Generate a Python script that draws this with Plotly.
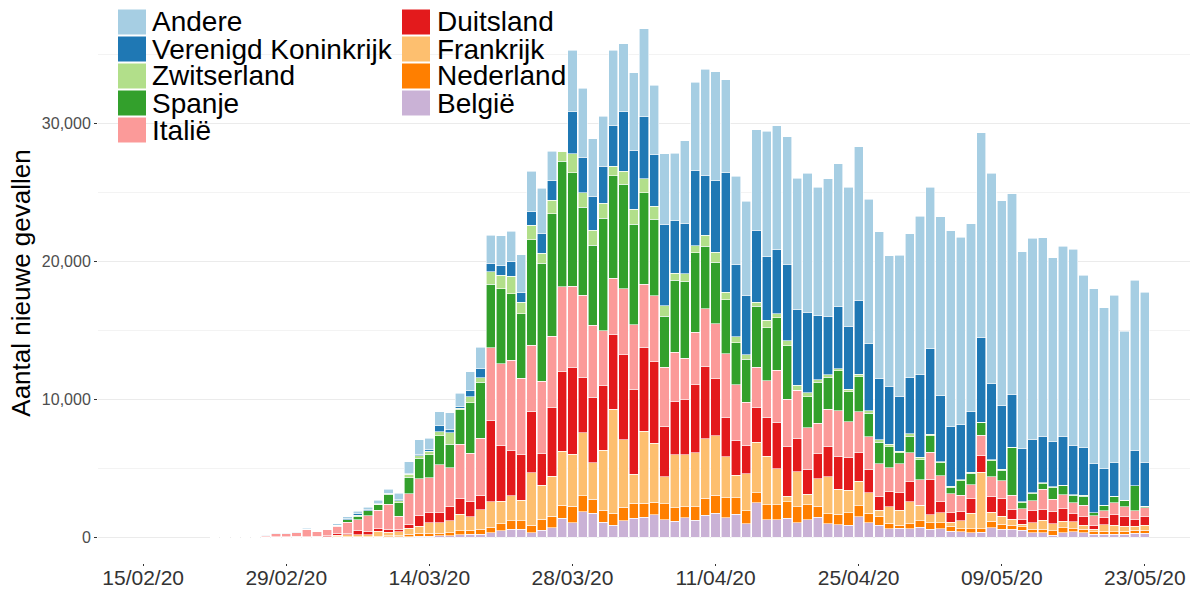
import pandas as pd
import plotly.graph_objects as go

# ---------------- data (new cases per day) ----------------
dates = pd.date_range("2020-02-22", "2020-05-23", freq="D")

andere = [0, 0, 0, 10, 20, 10, 40, 30, 40, 70, 20, 40,
          120, 170, 190, 120, 220, 260, 480, 860, 1030, 840, 1030, 1200, 960, 1370,
          1520, 2000, 2150, 2220, 2750, 2950, 3260, 2150, 0, 4440,
          4980, 4180, 3650, 5420, 4930, 5640, 6390, 5030, 5100, 4900, 5990, 6400, 7700, 7900,
          6710, 6400, 6810, 7290, 9100, 8980, 9260, 9540, 10070, 9300, 9950, 10390, 10100, 11110,
          10480, 10620, 9450, 10220, 10450,
          11470, 11720, 12970, 14200, 13590, 13620, 14830, 15270, 14830, 14540, 14290, 14590,
          14400, 13360, 13810, 14230, 12490, 12680, 11640, 12130, 12250, 12340, 12340]
verenigd_koninkrijk = [0, 0, 0, 0, 0, 0, 0, 0, 0, 0, 0, 0,
          0, 50, 100, 120, 70, 50, 40, 60, 120, 120, 410, 240, 120, 430,
          700, 650, 700, 1040, 680, 970, 1450, 1420, 0, 3050,
          2600, 2450, 2670, 2990, 4330, 4250, 4500, 3740, 5920, 3790, 3670, 5460, 4350, 5190,
          8690, 5240, 4300, 5220, 4590, 4640, 5550, 5480, 5840, 4640, 4250, 4470, 4560, 5390,
          4880, 4470, 4230, 3980, 4060,
          5990, 6180, 4810, 4300, 3980, 4400, 6160, 5480, 4660, 3820, 3860, 3860,
          3380, 3260, 3500, 3570, 3450, 3550, 2660, 2440, 0, 2580, 3180]
zwitserland = [0, 0, 0, 0, 0, 0, 20, 0, 0, 0, 0, 0,
          30, 0, 70, 0, 50, 40, 170, 190, 190, 240, 290, 840, 100, 430,
          310, 890, 970, 1260, 850, 1040, 720, 970, 750, 1380,
          1040, 1090, 1090, 660, 950, 1090, 1020, 950, 770, 530, 560, 530, 800, 720,
          530, 430, 310, 290, 560, 310, 340, 360, 310, 170, 170, 170, 190, 170,
          190, 170, 170, 120, 170,
          170, 120, 70, 100, 100, 100, 50, 100, 50, 50, 70, 50,
          50, 50, 50, 50, 70, 0, 0, 0, 0, 0, 0]
spanje = [0, 0, 0, 0, 0, 0, 0, 0, 20, 0, 30, 30,
          50, 190, 240, 360, 400, 720, 960, 1200, 1490, 1680, 2110, 1700, 2500, 3650,
          4060, 4590, 5430, 4830, 4660, 7660, 8550, 8890, 9100, 8210,
          6390, 5810, 8140, 7460, 7560, 7290, 6630, 5540, 3670, 5220, 5550, 5750, 4520, 4490,
          3910, 3020, 3120, 4400, 3820, 3790, 3890, 0, 2220, 2970, 2320, 2900, 2170, 2540,
          1690, 1590, 1520, 800, 1210,
          1450, 1210, 920, 460, 1040, 800, 920, 1160, 770, 3450, 410, 530,
          430, 850, 630, 530, 650, 240, 410, 460, 480, 1810, 100]
italie = [50, 70, 60, 90, 80, 100, 200, 220, 240, 560, 340, 470,
          530, 790, 770, 1150, 1320, 1800, 960, 2210, 2640, 2520, 3480, 2810, 3940, 3480,
          4150, 5260, 5920, 6570, 5550, 4780, 5260, 5170, 6160, 5940,
          5950, 5220, 4010, 4030, 4790, 4690, 4570, 4790, 4300, 3550, 3020, 3790, 4180, 3960,
          4660, 4030, 3140, 2970, 2660, 3770, 3450, 3500, 3040, 2220, 2700, 3330, 2610, 2970,
          2370, 2340, 1690, 2100, 2100,
          1880, 1930, 1910, 1380, 1160, 1040, 1450, 1400, 1280, 1040, 800, 720,
          1420, 870, 1010, 800, 850, 680, 510, 870, 680, 630, 680]
duitsland = [0, 0, 0, 0, 0, 20, 20, 20, 50, 20, 30, 50,
          120, 100, 310, 220, 190, 240, 170, 310, 790, 720, 720, 1030, 1150, 1130,
          1040, 5920, 4060, 3260, 3310, 4440, 2290, 4970, 5750, 6250,
          3990, 4740, 4670, 5470, 6150, 6170, 6080, 5900, 3670, 3860, 3980, 4950, 5260, 4130,
          2830, 2560, 2050, 2490, 2830, 3360, 3570, 2420, 1790, 1810, 2220, 2370, 2340, 2050,
          1690, 1010, 1140, 1280, 1450,
          0, 2580, 800, 680, 680, 1060, 1210, 1160, 1280, 700, 340, 870,
          800, 890, 920, 600, 600, 310, 480, 770, 720, 480, 600]
frankrijk = [0, 0, 0, 0, 0, 20, 40, 30, 40, 30, 70, 60,
          120, 145, 145, 145, 360, 240, 310, 410, 530, 790, 770, 890, 1200, 980,
          1420, 1860, 1620, 1810, 1500, 3820, 2460, 2900, 3910, 3770,
          4570, 2620, 4330, 7510, 4910, 2090, 5220, 4300, 1930, 3860, 3790, 3910, 4320, 4320,
          2970, 1620, 2680, 3670, 3500, 2610, 410, 2540, 750, 2000, 2660, 1790, 1620, 1790,
          1500, 430, 1210, 1090, 1590,
          1090, 600, 720, 290, 600, 1110, 4110, 650, 580, 430, 190, 480,
          680, 530, 480, 480, 310, 170, 480, 480, 360, 290, 360]
nederland = [0, 0, 0, 0, 0, 0, 0, 0, 0, 0, 0, 0,
          40, 50, 50, 50, 70, 90, 70, 190, 190, 190, 190, 220, 290, 290,
          360, 390, 530, 630, 600, 530, 800, 850, 970, 1210,
          1170, 1040, 900, 870, 970, 1070, 1020, 900, 1160, 990, 800, 970, 1210, 1330,
          1450, 1210, 940, 720, 1090, 1090, 1210, 1160, 1090, 820, 720, 750, 920, 800,
          680, 680, 390, 190, 360,
          480, 480, 430, 360, 190, 290, 240, 480, 390, 310, 240, 240,
          240, 310, 360, 240, 240, 170, 220, 190, 240, 240, 240]
belgie = [0, 0, 0, 0, 0, 0, 0, 0, 0, 0, 0, 0,
          0, 20, 20, 20, 30, 40, 40, 60, 100, 100, 120, 120, 190, 240,
          240, 340, 480, 580, 600, 360, 530, 700, 1380, 1060,
          1870, 1750, 1090, 900, 1220, 1410, 1460, 1650, 1300, 1160, 1420, 1260, 1620, 1740,
          1420, 1670, 1010, 2510, 1300, 1300, 1380, 1060, 1300, 1450, 1010, 940, 890, 1500,
          1060, 870, 630, 680, 630,
          750, 580, 630, 460, 430, 340, 390, 700, 580, 580, 530, 340,
          340, 170, 340, 410, 340, 240, 240, 220, 220, 290, 290]

# series in legend order (top of stack first), with colours
series_names = ["Andere", "Verenigd Koninkrijk", "Zwitserland", "Spanje", "Italië",
                "Duitsland", "Frankrijk", "Nederland", "België"]
series_values = [andere, verenigd_koninkrijk, zwitserland, spanje, italie,
                 duitsland, frankrijk, nederland, belgie]
colors = ["#A6CEE3", "#1F78B4", "#B2DF8A", "#33A02C", "#FB9A99",
          "#E31A1C", "#FDBF6F", "#FF7F00", "#CAB2D6"]

tick_dates = ["2020-02-15", "2020-02-29", "2020-03-14", "2020-03-28",
              "2020-04-11", "2020-04-25", "2020-05-09", "2020-05-23"]
tick_labels = ["15/02/20", "29/02/20", "14/03/20", "28/03/20",
               "11/04/20", "25/04/20", "09/05/20", "23/05/20"]
y_ticks = [0, 10000, 20000, 30000]

FONT = "Liberation Sans, Arial, sans-serif"

fig = go.Figure()
# stack from the bottom (België) upwards
for name, vals, col in reversed(list(zip(series_names, series_values, colors))):
    fig.add_trace(go.Bar(
        x=dates, y=vals, name=name,
        marker=dict(color=col, line=dict(color="white", width=0.6)),
        showlegend=False,
        hovertemplate="%{x|%d/%m/%y}<br>" + name + ": %{y:,}<extra></extra>",
    ))

W, H = 1198, 589
ML, MR, MT, MB = 98, 8, 3, 26
pw, ph = W - ML - MR, H - MT - MB


def px_x(px):
    return (px - ML) / pw


def px_y(py):
    return (H - MB - py) / ph


# manual two-column legend (ggplot style)
shapes = []
annotations = []
for i, (name, col) in enumerate(zip(series_names, colors)):
    c, r = (0, i) if i < 5 else (1, i - 5)
    kx0 = 118 if c == 0 else 402
    tx = 150 if c == 0 else 435
    yc = 22 + 27 * r
    shapes.append(dict(type="rect", xref="paper", yref="paper",
                       x0=px_x(kx0), x1=px_x(kx0 + 28),
                       y0=px_y(yc + 12.5), y1=px_y(yc - 12.5),
                       fillcolor=col, line=dict(width=0), layer="above"))
    annotations.append(dict(text=name, xref="paper", yref="paper",
                            x=px_x(tx), y=px_y(yc), xanchor="left", yanchor="middle",
                            showarrow=False, font=dict(family=FONT, size=28, color="black")))

fig.update_layout(
    width=W, height=H,
    margin=dict(l=ML, r=MR, t=MT, b=MB, autoexpand=False),
    barmode="stack", bargap=0.1,
    plot_bgcolor="white", paper_bgcolor="white",
    font=dict(family=FONT),
    shapes=shapes, annotations=annotations,
    showlegend=False,
)
fig.update_xaxes(
    range=["2020-02-10 14:00", "2020-05-27 10:00"],
    tickvals=tick_dates, ticktext=tick_labels,
    tickfont=dict(family=FONT, size=21, color="#333333"),
    ticks="outside", ticklen=2, tickcolor="#333333",
    ticklabelstandoff=-6,
    showgrid=False, zeroline=False, showline=False, automargin=False,
)
fig.update_yaxes(
    range=[-1850, 38750],
    tickvals=y_ticks, tickformat=",",
    tickfont=dict(family=FONT, size=16, color="#4D4D4D"),
    ticks="outside", ticklen=3, tickcolor="#333333",
    showgrid=True, gridcolor="#EBEBEB", gridwidth=1.1,
    minor=dict(tickvals=[5000, 15000, 25000, 35000], showgrid=True,
               gridcolor="#F3F3F3", gridwidth=0.6, ticks=""),
    zeroline=False, showline=False, automargin=False,
    title=dict(text="Aantal nieuwe gevallen", standoff=3,
               font=dict(family=FONT, size=26, color="black")),
)

fig.write_html(
    "out.html",
    config={"displayModeBar": False},
    post_script="document.body.style.margin='0';document.body.style.padding='0';",
)
